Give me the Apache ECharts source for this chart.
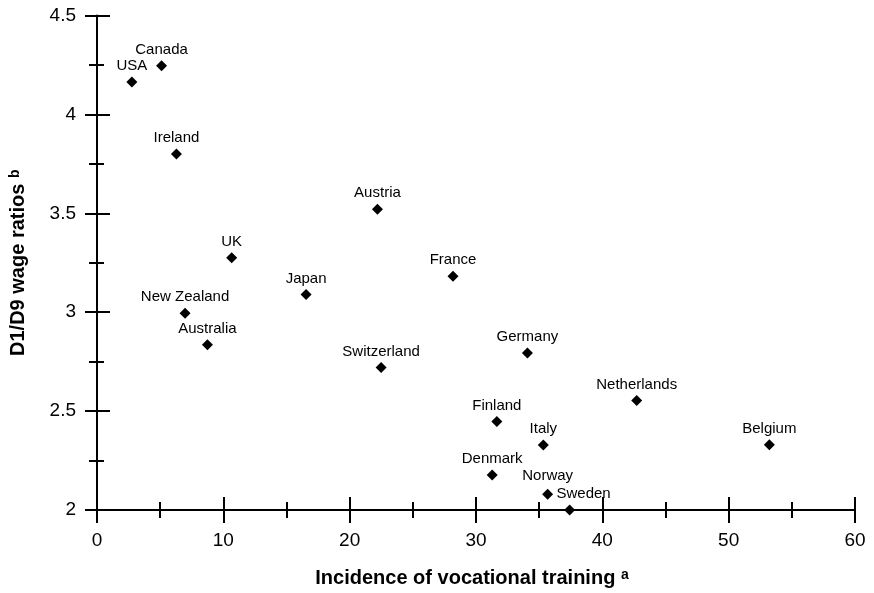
<!DOCTYPE html>
<html>
<head>
<meta charset="utf-8">
<script src="https://cdn.jsdelivr.net/npm/echarts@6/dist/echarts.min.js"></script>
<style>
html,body{margin:0;padding:0;background:#fff;}
#chart{width:874px;height:593px;}
</style>
</head>
<body>
<div id="chart"></div>
<script>
var countries = ['USA','Canada','Ireland','UK','New Zealand','Australia','Japan','Austria','France','Switzerland','Germany','Netherlands','Finland','Italy','Belgium','Denmark','Norway','Sweden'];
var training = [2.76, 5.11, 6.29, 10.66, 6.97, 8.74, 16.55, 22.2, 28.18, 22.49, 34.07, 42.72, 31.65, 35.33, 53.22, 31.28, 35.67, 37.41];
var ratio = [4.164, 4.246, 3.80, 3.275, 2.995, 2.836, 3.09, 3.521, 3.182, 2.72, 2.794, 2.553, 2.447, 2.328, 2.33, 2.177, 2.079, 2.0];
var xTicks = [0, 10, 20, 30, 40, 50, 60];
var yTicks = [2, 2.5, 3, 3.5, 4, 4.5];
var xTitle = 'Incidence of vocational training';
var yTitle = 'D1/D9 wage ratios';

var labelOffsets = { 'Sweden': [14, 0], 'Norway': [0, -3] };
var FONT = '"Liberation Sans", Arial, sans-serif';

var data = countries.map(function (c, i) {
  var item = { name: c, value: [training[i], ratio[i]] };
  if (labelOffsets[c]) item.label = { offset: labelOffsets[c] };
  return item;
});

var xMin = xTicks[0], xMax = xTicks[xTicks.length - 1], xInt = xTicks[1] - xTicks[0];
var yMin = yTicks[0], yMax = yTicks[yTicks.length - 1], yInt = yTicks[1] - yTicks[0];

var lineStyle = { color: '#000', width: 2 };
var supRich = { sup: { fontSize: 14, fontWeight: 'bold', fontFamily: FONT, color: '#000', verticalAlign: 'top' } };

var chart = echarts.init(document.getElementById('chart'), null, { renderer: 'canvas' });
chart.setOption({
  backgroundColor: '#fff',
  animation: false,
  grid: { left: 95, right: 19, top: 15.5, bottom: 80, containLabel: false },
  xAxis: [
    {
      type: 'value', min: xMin, max: xMax, interval: xInt, position: 'bottom',
      name: xTitle + ' {sup|a}', nameLocation: 'middle', nameGap: 58,
      nameTextStyle: { fontSize: 20, fontWeight: 'bold', fontFamily: FONT, color: '#000', rich: supRich, padding: [0, 8, 0, 0] },
      axisLine: { show: true, onZero: false, lineStyle: lineStyle },
      axisTick: { show: true, length: 13, inside: false, lineStyle: lineStyle },
      minorTick: { show: true, splitNumber: 2, length: 8, lineStyle: lineStyle },
      axisLabel: { fontSize: 19, fontFamily: FONT, color: '#000', margin: 21 },
      splitLine: { show: false }
    },
    {
      type: 'value', min: xMin, max: xMax, interval: xInt, position: 'bottom',
      axisLine: { show: false, onZero: false },
      axisTick: { show: true, length: 13, inside: true, lineStyle: lineStyle },
      minorTick: { show: true, splitNumber: 2, length: 8, lineStyle: lineStyle },
      axisLabel: { show: false },
      splitLine: { show: false }
    }
  ],
  yAxis: [
    {
      type: 'value', min: yMin, max: yMax, interval: yInt, position: 'left',
      name: yTitle + ' {sup|b}', nameLocation: 'middle', nameGap: 69,
      nameTextStyle: { fontSize: 20, fontWeight: 'bold', fontFamily: FONT, color: '#000', rich: supRich },
      axisLine: { show: true, onZero: false, lineStyle: lineStyle },
      axisTick: { show: true, length: 12, inside: false, lineStyle: lineStyle },
      minorTick: { show: true, splitNumber: 2, length: 8, lineStyle: lineStyle },
      axisLabel: { fontSize: 19, fontFamily: FONT, color: '#000', margin: 21 },
      splitLine: { show: false }
    },
    {
      type: 'value', min: yMin, max: yMax, interval: yInt, position: 'left',
      axisLine: { show: false, onZero: false },
      axisTick: { show: true, length: 13, inside: true, lineStyle: lineStyle },
      minorTick: { show: true, splitNumber: 2, length: 7, lineStyle: lineStyle },
      axisLabel: { show: false },
      splitLine: { show: false }
    }
  ],
  series: [{
    type: 'scatter',
    xAxisIndex: 0, yAxisIndex: 0,
    symbol: 'diamond', symbolSize: 11,
    clip: false,
    itemStyle: { color: '#000', opacity: 1 },
    label: {
      show: true, position: 'top', distance: 3,
      formatter: '{b}', fontSize: 15, fontFamily: FONT, color: '#000'
    },
    emphasis: { disabled: true },
    data: data
  }]
});
</script>
</body>
</html>
